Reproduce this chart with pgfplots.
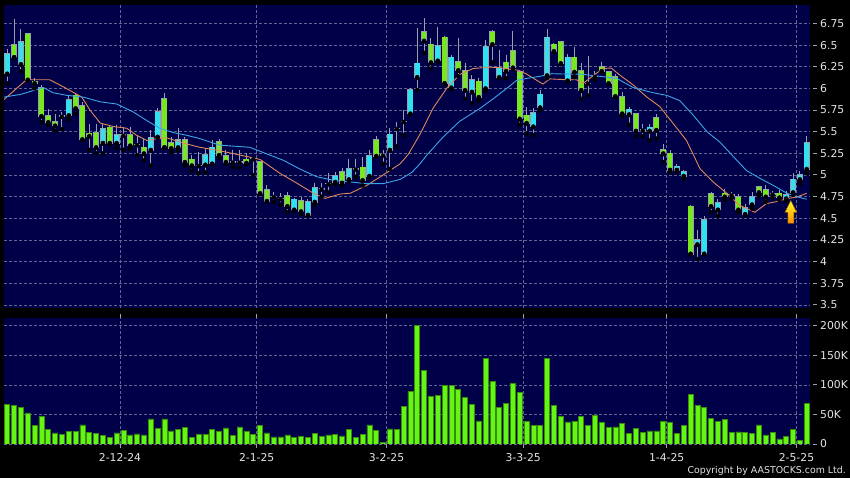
\documentclass[border=0pt]{standalone}
\usepackage{pgfplots}
\pgfplotsset{compat=1.18}
\usepackage{pgfplotstable}
\usepackage{fontspec}
\setmainfont{DejaVu Sans}
\definecolor{navy}{RGB}{0,0,72}
\definecolor{gridc}{RGB}{95,102,150}
\definecolor{upc}{RGB}{50,225,240}
\definecolor{dnc}{RGB}{120,232,30}
\definecolor{edgec}{RGB}{150,160,175}
\definecolor{volc}{RGB}{100,245,20}
\definecolor{voledge}{RGB}{55,140,10}
\definecolor{maone}{RGB}{225,135,90}
\definecolor{matwo}{RGB}{60,165,230}
\definecolor{labc}{RGB}{228,228,228}
\newcommand{\td}[1]{{\color{edgec}\rule[3.6pt]{3.6pt}{0.8pt}}\hspace{3.6pt}#1}

\pgfplotstableread{
i bl bh h l
0 6.17 6.40 6.45 6.06
2 6.28 6.54 6.69 6.20
9 5.69 5.87 5.91 5.64
14 5.37 5.53 5.59 5.25
16 5.37 5.46 5.58 5.31
21 5.29 5.43 5.52 5.11
22 5.44 5.73 5.77 5.44
25 5.32 5.41 5.54 5.29
29 5.12 5.23 5.31 5.03
30 5.13 5.32 5.40 5.13
42 4.60 4.72 4.74 4.59
44 4.54 4.69 4.72 4.53
45 4.69 4.85 4.91 4.66
48 4.92 4.99 5.03 4.89
50 4.95 5.07 5.19 4.93
53 4.99 5.22 5.29 4.98
56 5.29 5.47 5.54 5.07
59 5.71 5.98 6.01 5.70
60 6.13 6.29 6.70 5.98
63 6.32 6.49 6.71 6.31
65 6.01 6.36 6.38 5.99
68 5.96 6.10 6.15 5.83
70 6.00 6.48 6.56 5.97
72 6.13 6.23 6.44 6.12
77 5.56 5.72 5.77 5.46
78 5.78 5.93 5.98 5.75
79 6.15 6.59 6.69 6.12
82 6.09 6.36 6.40 6.08
91 5.70 5.76 5.79 5.58
94 5.51 5.55 5.59 5.40
98 5.06 5.10 5.13 5.03
99 4.99 5.04 5.06 4.96
101 4.20 4.25 4.37 4.03
102 4.09 4.48 4.53 4.09
104 4.60 4.68 4.72 4.53
108 4.55 4.62 4.66 4.53
109 4.66 4.75 4.80 4.61
114 4.73 4.77 4.81 4.70
115 4.80 4.95 5.02 4.77
116 4.95 5.00 5.05 4.90
117 5.07 5.37 5.45 5.02
}\upT

\pgfplotstableread{
i bl bh h l
1 6.36 6.50 6.80 6.36
3 6.10 6.63 6.64 6.09
4 6.06 6.08 6.12 6.00
5 5.68 6.01 6.04 5.61
6 5.61 5.68 5.76 5.58
7 5.57 5.61 5.71 5.51
10 5.77 5.92 5.95 5.71
11 5.41 5.80 5.84 5.41
12 5.45 5.48 5.59 5.29
13 5.32 5.49 5.59 5.25
15 5.37 5.55 5.57 5.35
18 5.34 5.46 5.56 5.30
20 5.25 5.32 5.42 5.17
23 5.32 5.88 5.95 5.32
24 5.31 5.37 5.44 5.26
26 5.15 5.41 5.44 5.11
27 5.11 5.18 5.23 5.05
31 5.23 5.38 5.42 5.20
32 5.15 5.22 5.29 5.13
35 5.14 5.18 5.25 5.13
37 4.79 5.15 5.15 4.78
38 4.70 4.83 4.88 4.69
41 4.64 4.76 4.80 4.57
43 4.58 4.70 4.75 4.55
49 4.91 5.04 5.08 4.88
52 4.94 5.09 5.21 4.88
54 5.22 5.41 5.45 5.21
61 6.55 6.65 6.81 6.41
62 6.30 6.51 6.58 6.23
64 6.06 6.59 6.60 6.05
66 6.21 6.31 6.58 6.14
67 5.98 6.20 6.29 5.88
69 5.90 6.08 6.12 5.86
71 6.51 6.65 6.67 6.30
73 6.20 6.30 6.38 6.12
74 6.24 6.43 6.66 6.22
75 5.65 6.19 6.21 5.58
76 5.60 5.69 5.79 5.48
80 6.43 6.51 6.52 6.42
81 6.29 6.54 6.55 6.28
83 6.19 6.36 6.48 6.13
84 5.98 6.20 6.29 5.88
87 6.20 6.25 6.30 6.19
88 6.06 6.19 6.20 6.05
89 5.91 6.13 6.17 5.90
90 5.71 5.90 5.96 5.68
92 5.51 5.71 5.72 5.45
95 5.52 5.66 5.71 5.42
96 5.25 5.29 5.36 5.15
97 5.06 5.25 5.29 5.04
100 4.09 4.64 4.65 4.09
103 4.64 4.78 4.80 4.57
105 4.75 4.79 4.84 4.71
107 4.60 4.75 4.78 4.57
110 4.80 4.86 4.87 4.76
111 4.75 4.83 4.88 4.69
113 4.74 4.79 4.83 4.71
}\dnT

\pgfplotstableread{
i p h l
8 5.68 5.73 5.53
17 5.46 5.56 5.29
19 5.35 5.45 5.23
28 5.11 5.27 5.02
33 5.15 5.29 5.09
34 5.15 5.29 5.09
36 5.19 5.21 5.00
39 4.75 4.80 4.69
40 4.73 4.79 4.66
46 4.84 4.91 4.75
47 4.90 5.02 4.80
51 5.07 5.19 4.98
55 5.23 5.29 5.13
57 5.54 5.61 5.33
58 5.62 5.75 5.46
85 6.06 6.37 5.92
86 6.14 6.20 6.10
93 5.52 5.59 5.45
106 4.77 4.80 4.73
112 4.78 4.82 4.74
}\djT

\pgfplotstableread{
i v
0 67
1 64.5
2 61.7
3 52.6
4 31
5 46.4
6 24.3
7 18.7
8 15.8
9 21
10 21.5
11 32.3
12 19.8
13 18.1
14 14.1
15 11.3
16 18.7
17 23.2
18 15.3
19 17
20 15.3
21 42.4
22 26
23 42.4
24 22
25 24.3
26 28.3
27 10.8
28 16.4
29 15.8
30 24.3
31 21.5
32 27.2
33 14.1
34 28.9
35 21
36 15.8
37 31.7
38 18.7
39 11.9
40 11.9
41 15.3
42 10.8
43 13
44 11.3
45 17.5
46 12.5
47 15.3
48 16.4
49 13.6
50 24.9
51 10.8
52 15.8
53 32.3
54 22.6
55 2.8
56 25.5
57 24.9
58 62.8
59 88.3
60 200
61 125
62 80.5
63 82
64 98.6
65 98.6
66 91.8
67 78.2
68 66.3
69 39.1
70 144
71 106
72 61.2
73 68
74 102.5
75 87.3
76 38
77 31.2
78 31.2
79 144
80 64.6
81 46.5
82 37.4
83 38.5
84 46.5
85 31.2
86 48.7
87 36.3
88 27.8
89 28.9
90 34.6
91 18.1
92 26.6
93 19.8
94 22.1
95 22.1
96 38.5
97 36.8
98 17.6
99 31.2
100 84.4
101 65.2
102 61.2
103 43.6
104 38.5
105 41.4
106 19.8
107 20.4
108 19.3
109 18.1
110 32.3
111 15.3
112 19.8
113 8.5
114 12.5
115 24.4
116 5.7
117 68
}\volT

\pgfplotsset{
  chartbase/.style={
    scale only axis, width=806pt,
    xmin=-0.48, xmax=117.48,
    axis background/.style={fill=navy},
    axis line style={draw=none},
    grid=major,
    major grid style={draw=gridc, dash pattern=on 2.5pt off 2.5pt, line width=0.6pt},
    xtick={16.5,36.5,55.5,75.5,96.5,115.5},
    tick align=outside,
    major tick length=4pt,
    tick label style={font=\fontsize{10.8}{12}\selectfont, text=labc},
    yticklabel pos=right,
    ytick style={draw=none},
    yticklabel style={anchor=west, xshift=-4.5pt},
  },
  wick/.style={only marks, mark=none, forget plot,
    error bars/.cd, y dir=plus, y explicit, error mark=none,
    error bar style={line width=1pt, draw=edgec}},
  bodyedge/.style={only marks, mark=none, forget plot,
    error bars/.cd, y dir=plus, y explicit, error mark=none,
    error bar style={line width=6.0pt, draw=edgec}},
  bodyfill/.style={only marks, mark=none, forget plot,
    error bars/.cd, y dir=plus, y explicit, error mark=none,
    error bar style={line width=4.6pt, draw=#1}},
}

\begin{document}
\begin{tikzpicture}
\useasboundingbox (0,0) rectangle (850pt,478pt);
\fill[black] (0,0) rectangle (850pt,478pt);

% ---------- price panel ----------
\begin{axis}[chartbase, at={(4pt,170pt)}, anchor=south west, height=303pt,
  ymin=3.465, ymax=6.963,
  xticklabels={}, xtick style={draw=none},
  ytick={3.5,3.75,4,4.25,4.5,4.75,5,5.25,5.5,5.75,6,6.25,6.5,6.75},
  yticklabels={\td{3.5},\td{3.75},\td{4},\td{4.25},\td{4.5},\td{4.75},\td{5},\td{5.25},\td{5.5},\td{5.75},\td{6},\td{6.25},\td{6.5},\td{6.75}},
]
% wicks
\addplot[wick] table[x=i, y=l, y error plus expr=\thisrow{h}-\thisrow{l}] {\upT};
\addplot[wick] table[x=i, y=l, y error plus expr=\thisrow{h}-\thisrow{l}] {\dnT};
\addplot[wick] table[x=i, y=l, y error plus expr=\thisrow{h}-\thisrow{l}] {\djT};
% body outlines
\addplot[bodyedge] table[x=i, y expr=\thisrow{bl}-0.008, y error plus expr=\thisrow{bh}-\thisrow{bl}+0.016] {\upT};
\addplot[bodyedge] table[x=i, y expr=\thisrow{bl}-0.008, y error plus expr=\thisrow{bh}-\thisrow{bl}+0.016] {\dnT};
\addplot[bodyedge] table[x=i, y expr=\thisrow{p}-0.008, y error plus expr=0.016] {\djT};
% body fills
\addplot[bodyfill=upc] table[x=i, y=bl, y error plus expr=\thisrow{bh}-\thisrow{bl}] {\upT};
\addplot[bodyfill=dnc] table[x=i, y=bl, y error plus expr=\thisrow{bh}-\thisrow{bl}] {\dnT};
% moving averages
\addplot[maone, line width=0.9pt] coordinates {
(-0.5,5.87) (2.8,6.10) (6.2,6.10) (8.4,6.01) (10.9,5.90) (12.1,5.75) (13.6,5.60) (15.5,5.56) (17.5,5.54) (18.9,5.46) (20.4,5.40) (21.9,5.42) (23.3,5.43) (26.2,5.36) (28.2,5.32) (29.7,5.30) (31.1,5.28) (34.1,5.23) (37,5.18) (39.9,5.02) (42.3,4.91) (44.8,4.79) (46.5,4.73) (48.7,4.78) (50.2,4.79) (52.6,4.88) (55,5.00) (57.5,5.13) (58.7,5.24) (60.4,5.47) (62.3,5.77) (64.3,6.00) (66.2,6.16) (68.2,6.23) (70.6,6.245) (72.1,6.24) (73.6,6.22) (74.8,6.21) (76,6.165) (78.4,6.05) (79.4,6.11) (81.9,6.10) (83.3,6.10) (84.3,6.06) (85.8,6.15) (87.2,6.23) (88.4,6.235) (89.7,6.15) (91.6,6.04) (93.6,5.90) (95.5,5.79) (97.5,5.59) (99.4,5.40) (101.4,5.07) (103.3,4.92) (105.3,4.79) (107.2,4.65) (109.4,4.57) (111.1,4.67) (112.4,4.69) (114.3,4.73) (115.5,4.745) (117,4.79)};
\addplot[matwo, line width=0.9pt] coordinates {
(-0.5,5.90) (1.9,5.93) (5.3,6.01) (6.7,5.95) (8.7,5.92) (11.1,5.90) (13.6,5.845) (16,5.82) (18.4,5.73) (20.4,5.63) (22.3,5.54) (24.3,5.49) (26.2,5.46) (28.2,5.42) (30.1,5.37) (31.1,5.345) (35.5,5.32) (40.4,5.17) (42.8,5.07) (45.3,4.98) (47.7,4.94) (50.2,4.92) (52.6,4.90) (55,4.90) (57.5,4.95) (59.2,5.03) (60.4,5.13) (61.4,5.23) (63.8,5.44) (66.2,5.62) (69.2,5.77) (71.1,5.88) (73.1,6.00) (74.5,6.09) (76,6.115) (78,6.14) (79.7,6.17) (81.9,6.165) (83.8,6.165) (86.7,6.14) (89.2,6.115) (91.6,6.01) (94.5,5.95) (96.5,5.92) (98.4,5.86) (100.4,5.69) (102.4,5.50) (104.3,5.38) (106.3,5.21) (108.2,5.05) (110.2,4.96) (112.1,4.88) (114.1,4.79) (115.5,4.75) (117,4.72)};
% arrow annotation
\path[draw=orange!60!black, line width=0.4pt, top color=yellow!85!white, bottom color=orange!90!yellow]
  (axis cs:114.67,4.707) -- (axis cs:115.53,4.569) -- (axis cs:115.11,4.569) -- (axis cs:115.11,4.441)
  -- (axis cs:114.23,4.441) -- (axis cs:114.23,4.569) -- (axis cs:113.81,4.569) -- cycle;
\end{axis}

% ---------- volume panel ----------
\begin{axis}[chartbase, at={(4pt,34pt)}, anchor=south west, height=126pt,
  ymin=0, ymax=213,
  ytick={0,50,100,150,200},
  yticklabels={\td{0},\td{50K},\td{100K},\td{150K},\td{200K}},
  xticklabels={2-12-24,2-1-25,3-2-25,3-3-25,1-4-25,2-5-25},
  xtick style={draw=edgec, line width=0.6pt},
  xticklabel style={yshift=-1.5pt},
]
\addplot[ybar, bar width=4.9pt, fill=volc, draw=voledge, line width=0.7pt] table[x=i, y=v] {\volT};
\end{axis}

\node[anchor=east, inner sep=0pt, text=labc, font=\fontsize{9.4}{11}\selectfont] at (846pt,7pt) {Copyright by AASTOCKS.com Ltd.};
\end{tikzpicture}
\end{document}
